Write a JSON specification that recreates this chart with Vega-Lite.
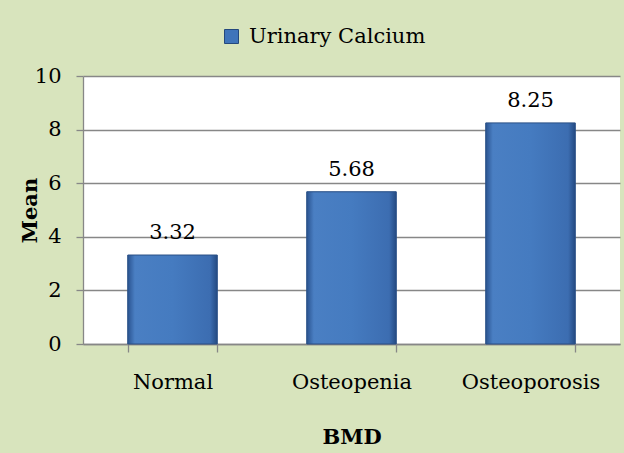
{
  "$schema": "https://vega.github.io/schema/vega-lite/v6.json",
  "width": 537,
  "height": 268,
  "autosize": "none",
  "padding": {"left": 83, "top": 76, "right": 4, "bottom": 109},
  "background": "#d8e4bd",
  "config": {
    "view": {"fill": "white", "stroke": null},
    "font": "DejaVu Serif"
  },
  "data": {
    "values": [
      {"BMD": "Normal", "Mean": 3.32, "series": "Urinary Calcium"},
      {"BMD": "Osteopenia", "Mean": 5.68, "series": "Urinary Calcium"},
      {"BMD": "Osteoporosis", "Mean": 8.25, "series": "Urinary Calcium"}
    ]
  },
  "encoding": {
    "x": {
      "field": "BMD",
      "type": "nominal",
      "sort": null,
      "scale": {"paddingInner": 0.5, "paddingOuter": 0.25},
      "axis": {
        "title": "BMD",
        "titleFont": "DejaVu Serif",
        "titleFontSize": 21,
        "titleFontWeight": "bold",
        "titleColor": "black",
        "titleBaseline": "alphabetic",
        "titleY": 99,
        "labelAngle": 0,
        "labelFont": "DejaVu Serif",
        "labelFontSize": 21,
        "labelColor": "black",
        "labelPadding": 19,
        "tickBand": "extent",
        "tickSize": 8,
        "tickColor": "#878787",
        "tickWidth": 1.3,
        "domainColor": "#878787",
        "domainWidth": 1.3
      }
    },
    "y": {
      "field": "Mean",
      "type": "quantitative",
      "scale": {"domain": [0, 10]},
      "axis": {
        "title": "Mean",
        "values": [0, 2, 4, 6, 8, 10],
        "titleFont": "DejaVu Serif",
        "titleFontSize": 21,
        "titleFontWeight": "bold",
        "titleColor": "black",
        "titleAngle": -90,
        "titleBaseline": "alphabetic",
        "titleAlign": "center",
        "titleX": -47,
        "titleY": 134,
        "labelFont": "DejaVu Serif",
        "labelFontSize": 21,
        "labelColor": "black",
        "labelPadding": 15,
        "tickSize": 7,
        "tickColor": "#878787",
        "tickWidth": 1.3,
        "domainColor": "#878787",
        "domainWidth": 1.3,
        "grid": true,
        "gridColor": "#878787",
        "gridWidth": 1.3
      }
    }
  },
  "layer": [
    {
      "mark": {"type": "bar"},
      "encoding": {
        "color": {
          "field": "series",
          "type": "nominal",
          "scale": {"range": ["#3f74ba"]},
          "legend": {
            "title": null,
            "orient": "none",
            "legendX": 138,
            "legendY": -50,
            "padding": 0,
            "symbolType": "square",
            "symbolSize": 196,
            "symbolStrokeColor": "#24487d",
            "symbolStrokeWidth": 1,
            "labelFont": "DejaVu Serif",
            "labelFontSize": 21,
            "labelColor": "black",
            "labelOffset": 7,
            "labelLimit": 400
          }
        }
      }
    },
    {
      "mark": {
        "type": "bar",
        "stroke": "#2a4f85",
        "strokeWidth": 1,
        "fill": {
          "gradient": "linear",
          "x1": 0, "y1": 0, "x2": 1, "y2": 0,
          "stops": [
            {"offset": 0, "color": "#2a5390"},
            {"offset": 0.08, "color": "#4a7fc3"},
            {"offset": 0.5, "color": "#457bc0"},
            {"offset": 0.92, "color": "#3c6db1"},
            {"offset": 1, "color": "#244a82"}
          ]
        }
      }
    },
    {
      "mark": {
        "type": "text",
        "baseline": "alphabetic",
        "dy": -16,
        "fontSize": 21,
        "font": "DejaVu Serif",
        "color": "black"
      },
      "encoding": {
        "text": {"field": "Mean", "type": "quantitative", "format": ".2f"}
      }
    }
  ]
}
